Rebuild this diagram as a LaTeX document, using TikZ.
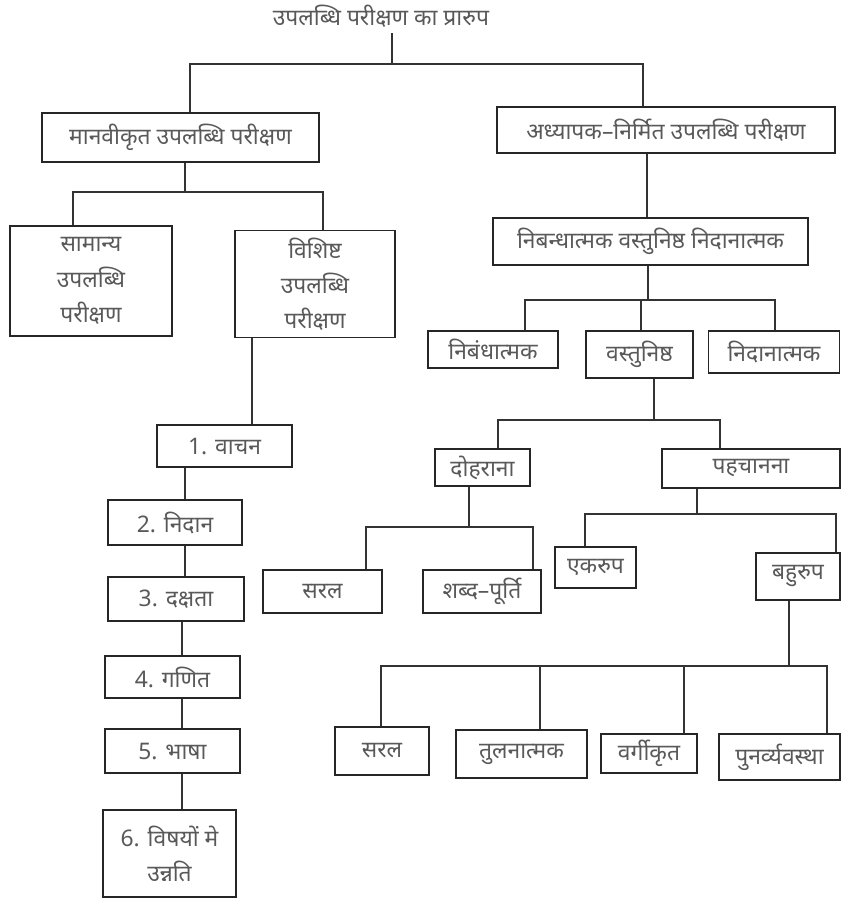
\documentclass[tikz,border=0pt]{standalone}
\usepackage{fontspec}
\newfontfamily\deva[Script=Devanagari]{Noto Sans}

\begin{document}
\begin{tikzpicture}[
        x=0.02cm, y=-0.02cm,
        font=\deva\fontsize{13}{20}\selectfont,
        box/.style={rectangle, draw=black!85, line width=1pt, text=black!65, align=center, inner sep=2pt},
        link/.style={draw=black!80, line width=0.9pt}
    ]
    \useasboundingbox (0,0) rectangle (841,900);

    % Nodes
    \node (title) [text=black!65] at (381,16) {उपलब्धि परीक्षण का प्रारुप};
    \node (std) [box, minimum width=5.54cm, minimum height=0.98cm] at (180.5,137.5) {मानवीकृत उपलब्धि परीक्षण};
    \node (teach) [box, minimum width=6.76cm, minimum height=0.92cm] at (666,130) {अध्यापक–निर्मित उपलब्धि परीक्षण};
    \node (gen) [box, minimum width=3.24cm, minimum height=2.2cm] at (91,281) {सामान्य\\उपलब्धि\\परीक्षण};
    \node (spec) [box, minimum width=3.2cm, minimum height=2.14cm] at (315,284) {विशिष्ट\\उपलब्धि\\परीक्षण};
    \node (s1) [box, minimum width=2.7cm, minimum height=0.84cm] at (224.5,446) {1. वाचन};
    \node (s2) [box, minimum width=2.68cm, minimum height=0.9cm] at (175,522.5) {2. निदान};
    \node (s3) [box, minimum width=2.72cm, minimum height=0.88cm] at (176,599) {3. दक्षता};
    \node (s4) [box, minimum width=2.7cm, minimum height=0.84cm] at (172.5,677) {4. गणित};
    \node (s5) [box, minimum width=2.7cm, minimum height=0.88cm] at (172.5,751) {5. भाषा};
    \node (s6) [box, minimum width=2.66cm, minimum height=1.74cm] at (169.5,853.5) {6. विषयों मे\\उन्नति};
    \node (types) [box, minimum width=6.3cm, minimum height=0.94cm] at (650.5,241.5) {निबन्धात्मक वस्तुनिष्ठ निदानात्मक};
    \node (essay) [box, minimum width=2.6cm, minimum height=0.74cm] at (493,349.5) {निबंधात्मक};
    \node (obj) [box, minimum width=2.14cm, minimum height=0.94cm] at (639.5,354.5) {वस्तुनिष्ठ};
    \node (diag) [box, minimum width=2.62cm, minimum height=0.84cm] at (774,352) {निदानात्मक};
    \node (recall) [box, minimum width=1.9cm, minimum height=0.74cm] at (482.5,467.5) {दोहराना};
    \node (recog) [box, minimum width=3.56cm, minimum height=0.78cm] at (751,468.5) {पहचानना};
    \node (simple) [box, minimum width=2.38cm, minimum height=0.86cm] at (322.5,591.5) {सरल};
    \node (fill) [box, minimum width=2.36cm, minimum height=0.86cm] at (482,591.5) {शब्द–पूर्ति};
    \node (alt) [box, minimum width=1.62cm, minimum height=0.82cm] at (595.5,567.5) {एकरुप};
    \node (multi) [box, minimum width=1.68cm, minimum height=0.94cm] at (798,576.5) {बहुरुप};
    \node (msimple) [box, minimum width=1.88cm, minimum height=0.96cm] at (382,751) {सरल};
    \node (comp) [box, minimum width=2.62cm, minimum height=0.96cm] at (521.5,754) {तुलनात्मक};
    \node (class) [box, minimum width=1.92cm, minimum height=0.78cm] at (649,753.5) {वर्गीकृत};
    \node (rearr) [box, minimum width=2.42cm, minimum height=0.92cm] at (779.5,757) {पुनर्व्यवस्था};

    % Bus points
    \coordinate (b0) at (392,64);
    \coordinate (b1) at (185,192);
    \coordinate (b2) at (648,300);
    \coordinate (b3) at (654,420);
    \coordinate (b4) at (469,527);
    \coordinate (b5) at (697,514);
    \coordinate (b6) at (789,666);

    % Lines
    \draw [link] (title.south -| b0) -- (b0);
    \draw [link] (std.north -| 190,0) |- (b0) -| (teach.north -| 643,0);
    \draw [link] (std.south -| b1) -- (b1);
    \draw [link] (gen.north -| 73,0) |- (b1) -| (spec.north -| 323,0);
    \draw [link] (spec.south -| 252,0) -- (s1.north -| 252,0);
    \foreach \a/\b/\x in {s1/s2/185, s2/s3/185, s3/s4/182, s4/s5/182, s5/s6/182}
        \draw [link] (\a.south -| \x,0) -- (\b.north -| \x,0);
    \draw [link] (teach.south -| 647,0) -- (types.north -| 647,0);
    \draw [link] (types.south -| b2) -- (b2);
    \draw [link] (essay.north -| 525,0) |- (b2) -| (diag.north -| 775,0);
    \draw [link] (obj.north -| 641,0) -- (641,300);
    \draw [link] (obj.south -| b3) -- (b3);
    \draw [link] (recall.north -| 498,0) |- (b3) -| (recog.north -| 720,0);
    \draw [link] (recall.south -| b4) -- (b4);
    \draw [link] (simple.north -| 366,0) |- (b4) -| (fill.north -| 533,0);
    \draw [link] (recog.south -| b5) -- (b5);
    \draw [link] (alt.north -| 585,0) |- (b5) -| (multi.north -| 836,0);
    \draw [link] (multi.south -| b6) -- (b6);
    \draw [link] (msimple.north -| 381,0) |- (b6) -| (rearr.north -| 827,0);
    \foreach \n/\x in {comp/540, class/684}
        \draw [link] (\n.north -| \x,0) -- (\x,666);

\end{tikzpicture}
\end{document}
